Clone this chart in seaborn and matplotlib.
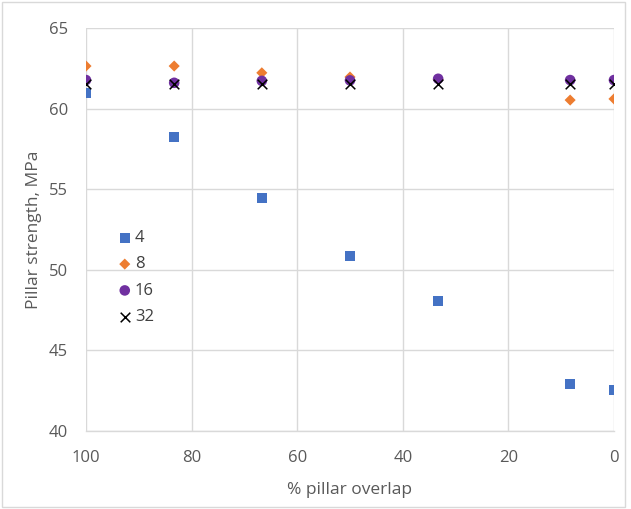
import matplotlib
matplotlib.use("Agg")
import matplotlib.pyplot as plt
import seaborn as sns
import pandas as pd
from matplotlib.patches import Rectangle

sns.set_style("white")
plt.rcParams["font.family"] = ["Open Sans", "DejaVu Sans"]

# % pillar overlap for each model run
overlap = [100, 83.3, 66.7, 50, 33.3, 8.3, 0]

# pillar strength (MPa) per series
strength_4 = [60.97, 58.25, 54.45, 50.86, 48.06, 42.92, 42.54]
strength_8 = [62.64, 62.64, 62.22, 61.96, 61.80, 60.53, 60.60]
strength_16 = [61.77, 61.60, 61.72, 61.75, 61.85, 61.77, 61.77]
strength_32 = [61.50, 61.50, 61.50, 61.50, 61.50, 61.50, 61.50]

series_names = ["4", "8", "16", "32"]
series_values = [strength_4, strength_8, strength_16, strength_32]
colors = ["#4472C4", "#ED7D31", "#7030A0", "#000000"]
markers = ["s", "D", "o", "x"]
sizes = [55, 32, 58, 48]

fig = plt.figure(figsize=(6.31, 5.09), dpi=100)
ax = fig.add_axes([0.1363, 0.1532, 0.973 - 0.1363, 0.945 - 0.1532])

for name, vals, c, m, s in zip(series_names, series_values, colors, markers, sizes):
    df = pd.DataFrame({"overlap": overlap, "strength": vals})
    kw = dict(color=c, marker=m, s=s, label=name, ax=ax, zorder=3)
    if m == "x":
        kw["linewidth"] = 1.1
    else:
        kw["edgecolor"] = "none"
    sns.scatterplot(data=df, x="overlap", y="strength", **kw)

ax.set_xlim(100, 0)
ax.set_ylim(40, 65)
ax.set_xticks([100, 80, 60, 40, 20, 0])
ax.set_yticks([40, 45, 50, 55, 60, 65])
ax.grid(True, color="#d9d9d9", linewidth=1.0)
ax.set_axisbelow(True)
for side in ["top", "right", "left"]:
    ax.spines[side].set_visible(False)
ax.spines["bottom"].set_color("#d9d9d9")
ax.spines["bottom"].set_linewidth(1.0)
ax.tick_params(axis="both", length=0, labelsize=12, labelcolor="#595959")
ax.tick_params(axis="x", pad=14)
ax.tick_params(axis="y", pad=13)

ax.set_xlabel("% pillar overlap", fontsize=12.5, color="#595959", labelpad=11)
ax.set_ylabel("Pillar strength, MPa", fontsize=12.5, color="#595959", labelpad=5)

leg = ax.legend(loc="upper left", bbox_to_anchor=(0.045, 0.515), frameon=False,
                fontsize=12, handletextpad=0.1, labelspacing=0.62,
                handlelength=1.0, borderaxespad=0, markerscale=1.0)
for t in leg.get_texts():
    t.set_color("#404040")

# light outer frame of the chart area
fig.patches.append(Rectangle((0.003, 0.003), 0.988, 0.993, transform=fig.transFigure,
                             fill=False, edgecolor="#d9d9d9", linewidth=1.0))

fig.savefig("out.png", dpi=100)
